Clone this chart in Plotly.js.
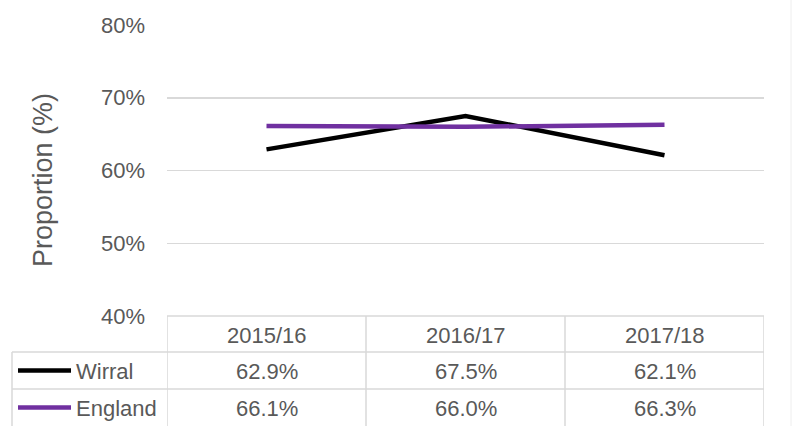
<!DOCTYPE html>
<html>
<head>
<meta charset="utf-8">
<script src="https://cdn.plot.ly/plotly-3.0.1.min.js"></script>
<style>html,body{margin:0;padding:0;background:#fff;}#chart{width:792px;height:426px;}</style>
</head>
<body>
<div id="chart"></div>
<script>
const categories = ["2015/16", "2016/17", "2017/18"];
const seriesNames = ["Wirral", "England"];
const wirral = [62.9, 67.5, 62.1];
const england = [66.1, 66.0, 66.3];
const seriesColors = ["#000000", "#7030A0"];
const yTickVals = [40, 50, 60, 70, 80];
const yTickText = ["40%", "50%", "60%", "70%", "80%"];
const yTitle = "Proportion (%)";

const W = 792, H = 426;
const L = 167, R = 764, T = 25, B = 316;
const rowTops = [316, 352, 389, 426];
const tableLeft = 12;
const textColor = "#595959";
const gridColor = "#d9d9d9";
const font = {family: "Liberation Sans, Arial, sans-serif", size: 22, color: textColor};

const seriesValues = [wirral, england];
const traces = seriesValues.map((vals, i) => ({
  x: categories, y: vals, type: "scatter", mode: "lines",
  name: seriesNames[i], line: {color: seriesColors[i], width: 4.5}, showlegend: false,
  hoverinfo: "skip"
}));

const px = x => (x - L) / (R - L);
const pyPaper = y => (B - y) / (B - T);

const shapes = [];
const annotations = [];
const line = (x0, y0, x1, y1) => shapes.push({type: "line", xref: "paper", yref: "paper",
  x0, y0: pyPaper(y0), x1, y1: pyPaper(y1), line: {color: gridColor, width: 1.5}, layer: "below"});

line(px(L), rowTops[0], px(R), rowTops[0]);
line(px(tableLeft), rowTops[1], px(R), rowTops[1]);
line(px(tableLeft), rowTops[2], px(R), rowTops[2]);
line(px(tableLeft), rowTops[1], px(tableLeft), rowTops[3]);
for (let k = 0; k <= categories.length; k++) {
  const xc = -0.5 + k;
  shapes.push({type: "line", xref: "x", yref: "paper", x0: xc, x1: xc,
    y0: pyPaper(rowTops[0]), y1: pyPaper(rowTops[3]), line: {color: gridColor, width: 1.5}, layer: "below"});
}
shapes.push({type: "line", xref: "paper", yref: "paper", x0: px(791), x1: px(791), y0: pyPaper(0), y1: pyPaper(H), line: {color: "#eeeeee", width: 1}});

categories.forEach((c, j) => {
  annotations.push({x: j, xref: "x", y: pyPaper((rowTops[0] + rowTops[1]) / 2 + 1), yref: "paper",
    text: c, showarrow: false, font, xanchor: "center", yanchor: "middle"});
});
seriesValues.forEach((vals, i) => {
  const ym = (rowTops[i + 1] + rowTops[i + 2]) / 2;
  vals.forEach((v, j) => {
    annotations.push({x: j, xref: "x", y: pyPaper(ym + 1), yref: "paper",
      text: v.toFixed(1) + "%", showarrow: false, font, xanchor: "center", yanchor: "middle"});
  });
  shapes.push({type: "line", xref: "paper", yref: "paper", x0: px(18), x1: px(71),
    y0: pyPaper(ym), y1: pyPaper(ym), line: {color: seriesColors[i], width: 4.5}});
  annotations.push({x: px(74), xref: "paper", y: pyPaper(ym + 1), yref: "paper",
    text: seriesNames[i], showarrow: false, font, xanchor: "left", yanchor: "middle"});
});
// y-axis title
annotations.push({x: px(43), xref: "paper", y: pyPaper(180), yref: "paper", text: yTitle,
  textangle: -90, showarrow: false, xanchor: "center", yanchor: "middle",
  font: {family: font.family, size: 27, color: textColor}});

const layout = {
  width: W, height: H,
  margin: {l: L, r: W - R, t: T, b: H - B, pad: 0},
  paper_bgcolor: "#fff", plot_bgcolor: "#fff",
  font,
  xaxis: {type: "category", range: [-0.5, 2.5], showticklabels: false, showgrid: false,
    zeroline: false, showline: false, ticks: "", fixedrange: true},
  yaxis: {range: [40, 80], tickvals: yTickVals, ticktext: yTickText, showgrid: true,
    gridcolor: gridColor, gridwidth: 1.5, zeroline: false, showline: false, ticks: "",
    ticklabelstandoff: 21, tickfont: font},
  shapes, annotations, showlegend: false
};

Plotly.newPlot("chart", traces, layout, {displayModeBar: false, staticPlot: true});
</script>
</body>
</html>
